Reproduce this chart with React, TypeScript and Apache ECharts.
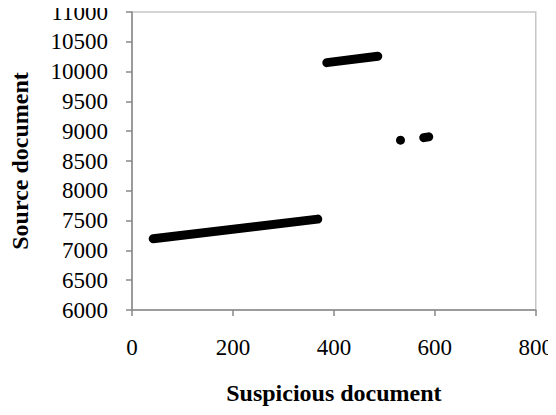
import React, { useEffect, useRef } from "react";
import * as echarts from "echarts";

const xTicks = { min: 0, max: 800, interval: 200 };
const yTicks = { min: 6000, max: 11000, interval: 500 };

const segmentA: number[][] = [
  [42, 7195],
  [368, 7525],
];
const segmentB: number[][] = [
  [386, 10150],
  [487, 10258],
];
const dotC: number[][] = [[532, 8850]];
const segmentD: number[][] = [
  [578, 8892],
  [588, 8905],
];

const FONT = "'Liberation Serif', 'Times New Roman', serif";

export default function App() {
  const ref = useRef<HTMLDivElement>(null);
  useEffect(() => {
    if (!ref.current) return;
    const chart = echarts.init(ref.current, undefined, { renderer: "svg" });
    const lineSeries = (data: number[][]) => ({
      type: "line",
      data,
      symbol: "none",
      lineStyle: { color: "#000", width: 9, cap: "round" },
      silent: true,
    });
    chart.setOption({
      animation: false,
      backgroundColor: "#fff",
      grid: {
        left: 130,
        right: 18,
        top: 12,
        bottom: 105,
        show: true,
        borderColor: "#c6c6c6",
        borderWidth: 1.5,
        containLabel: false,
      },
      xAxis: {
        type: "value",
        min: xTicks.min,
        max: xTicks.max,
        interval: xTicks.interval,
        name: "Suspicious document",
        nameLocation: "middle",
        nameGap: 71,
        nameTextStyle: { fontFamily: FONT, fontSize: 24, fontWeight: "bold", color: "#000" },
        axisLine: { show: true, lineStyle: { color: "#898989", width: 1.5 } },
        axisTick: { show: true, length: 6, inside: false, lineStyle: { color: "#898989", width: 1.5 } },
        axisLabel: { fontFamily: FONT, fontSize: 23, color: "#000", margin: 26, formatter: (v: number) => String(v) },
        splitLine: { show: false },
      },
      yAxis: {
        type: "value",
        min: yTicks.min,
        max: yTicks.max,
        interval: yTicks.interval,
        name: "Source document",
        nameLocation: "middle",
        nameGap: 100,
        nameRotate: 90,
        nameTextStyle: { fontFamily: FONT, fontSize: 24, fontWeight: "bold", color: "#000" },
        axisLine: { show: true, lineStyle: { color: "#898989", width: 1.5 } },
        axisTick: { show: true, length: 6, inside: false, lineStyle: { color: "#898989", width: 1.5 } },
        axisLabel: { fontFamily: FONT, fontSize: 23, color: "#000", margin: 24, formatter: (v: number) => String(v) },
        splitLine: { show: false },
      },
      series: [
        lineSeries(segmentA),
        lineSeries(segmentB),
        lineSeries(segmentD),
        {
          type: "scatter",
          data: dotC,
          symbol: "circle",
          symbolSize: 9,
          itemStyle: { color: "#000", opacity: 1 },
          silent: true,
        },
      ],
    });
    return () => chart.dispose();
  }, []);
  return <div ref={ref} style={{ width: 556, height: 415, margin: -8 }} />;
}
